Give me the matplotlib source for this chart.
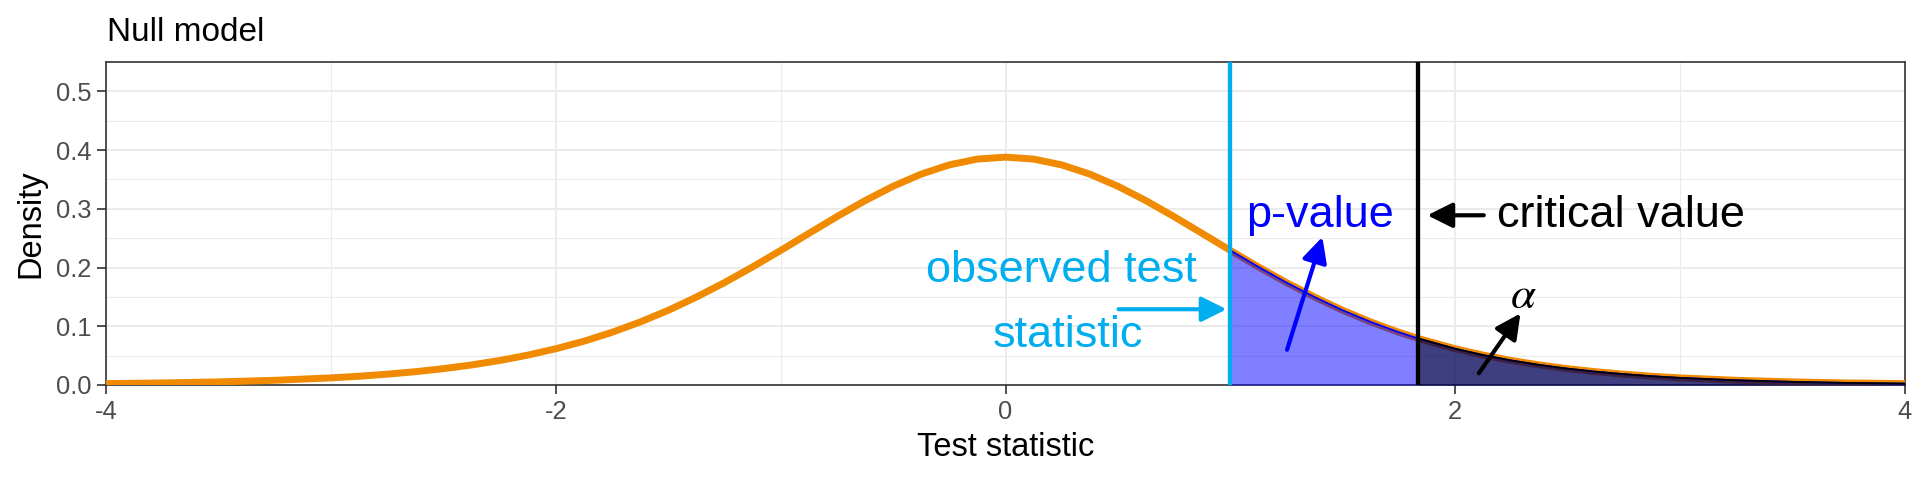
import numpy as np
import matplotlib.pyplot as plt

plt.rcParams["font.family"] = ["Liberation Sans", "DejaVu Sans"]
plt.rcParams["axes.unicode_minus"] = False

# density of the null model
stat = np.array([-4.0, -3.75, -3.5, -3.25, -3.0, -2.875, -2.75, -2.625, -2.5, -2.375,
                 -2.25, -2.125, -2.0, -1.875, -1.75, -1.625, -1.5, -1.375, -1.25, -1.125,
                 -1.0, -0.875, -0.75, -0.625, -0.5, -0.375, -0.25, -0.125, 0.0,
                 0.125, 0.25, 0.375, 0.5, 0.625, 0.75, 0.875, 1.0, 1.125, 1.25,
                 1.375, 1.5, 1.625, 1.75, 1.833, 2.0, 2.125, 2.25, 2.375, 2.5,
                 2.625, 2.75, 2.875, 3.0, 3.25, 3.5, 3.75, 4.0])
density = np.array([0.0024, 0.0035, 0.0053, 0.0080, 0.0121, 0.0149, 0.0184, 0.0226, 0.0278, 0.0341,
                    0.0417, 0.0508, 0.0617, 0.0745, 0.0897, 0.1072, 0.1271, 0.1496, 0.1743, 0.2010,
                    0.2291, 0.2580, 0.2866, 0.3138, 0.3384, 0.3591, 0.3748, 0.3847, 0.3880,
                    0.3847, 0.3748, 0.3591, 0.3384, 0.3138, 0.2866, 0.2580, 0.2291, 0.2010, 0.1743,
                    0.1496, 0.1271, 0.1072, 0.0897, 0.0794, 0.0617, 0.0508, 0.0417, 0.0341, 0.0278,
                    0.0226, 0.0184, 0.0149, 0.0121, 0.0080, 0.0053, 0.0035, 0.0024])

observed = 1.0
critical = 1.833

orange = "#F08A00"
sky = "#00AEEF"

fig = plt.figure(figsize=(19.2, 4.8), dpi=100)
ax = fig.add_axes([106 / 1920, 1 - 385 / 480, 1799 / 1920, 323 / 480])

# theme_bw look
ax.set_xlim(-4, 4)
ax.set_ylim(0, 0.55)
ax.set_xticks([-4, -2, 0, 2, 4])
ax.set_xticks([-3, -1, 1, 3], minor=True)
ax.set_yticks([0.0, 0.1, 0.2, 0.3, 0.4, 0.5])
ax.set_yticks([0.05, 0.15, 0.25, 0.35, 0.45], minor=True)
ax.set_yticklabels(["0.0", "0.1", "0.2", "0.3", "0.4", "0.5"])
ax.grid(which="major", color="#EBEBEB", lw=1.4)
ax.grid(which="minor", color="#EBEBEB", lw=0.8)
ax.set_axisbelow(True)
for s in ax.spines.values():
    s.set_color("#333333")
    s.set_linewidth(1.2)
ax.tick_params(which="major", length=6.5, width=1.2, color="#333333",
               labelcolor="#4D4D4D", labelsize=18.4, pad=4)
ax.tick_params(which="minor", length=0)

ax.plot(stat, density, color=orange, lw=5.0, zorder=3, solid_joinstyle="round")

pv = stat >= observed
ax.fill_between(stat[pv], 0, density[pv], color="blue", alpha=0.5, lw=0, zorder=4)
ax.plot(stat[pv], density[pv], color="blue", lw=1.3, zorder=5)
al = stat >= critical
ax.fill_between(stat[al], 0, density[al], color="black", alpha=0.5, lw=0, zorder=4)
ax.plot(stat[al], density[al], color="black", lw=1.3, zorder=5)

ax.axvline(observed, color=sky, lw=3.1, zorder=6)
ax.axvline(critical, color="black", lw=3.1, zorder=6)

fs = 32.5
ax.text(0.249, 0.175, "observed test", color=sky, fontsize=fs, ha="center", va="baseline")
ax.text(0.277, 0.0646, "statistic", color=sky, fontsize=fs, ha="center", va="baseline")
ax.text(1.401, 0.269, "p-value", color="blue", fontsize=fs, ha="center", va="baseline")
ax.text(2.736, 0.269, "critical value", color="black", fontsize=fs, ha="center", va="baseline")
ax.text(2.305, 0.131, r"$\alpha$", color="black", fontsize=fs, ha="center", va="baseline",
        math_fontfamily="stix")

arrows = [
    ((0.503, 0.129), (0.983, 0.129), sky),
    ((1.252, 0.060), (1.409, 0.252), "blue"),
    ((2.127, 0.289), (1.876, 0.289), "black"),
    ((2.105, 0.020), (2.290, 0.122), "black"),
]
for tail, head, c in arrows:
    ax.annotate("", xy=head, xytext=tail, zorder=7,
                arrowprops=dict(arrowstyle="-|>", color=c, lw=3, mutation_scale=38,
                                shrinkA=0, shrinkB=0))

ax.set_xlabel("Test statistic", fontsize=23.5, labelpad=6)
ax.set_ylabel("Density", fontsize=23.5)
ax.yaxis.set_label_coords(-0.033, 0.5)
fig.text(107 / 1920, 1 - 41 / 480, "Null model", fontsize=24, ha="left", va="baseline")

fig.savefig("out.png", dpi=100)
